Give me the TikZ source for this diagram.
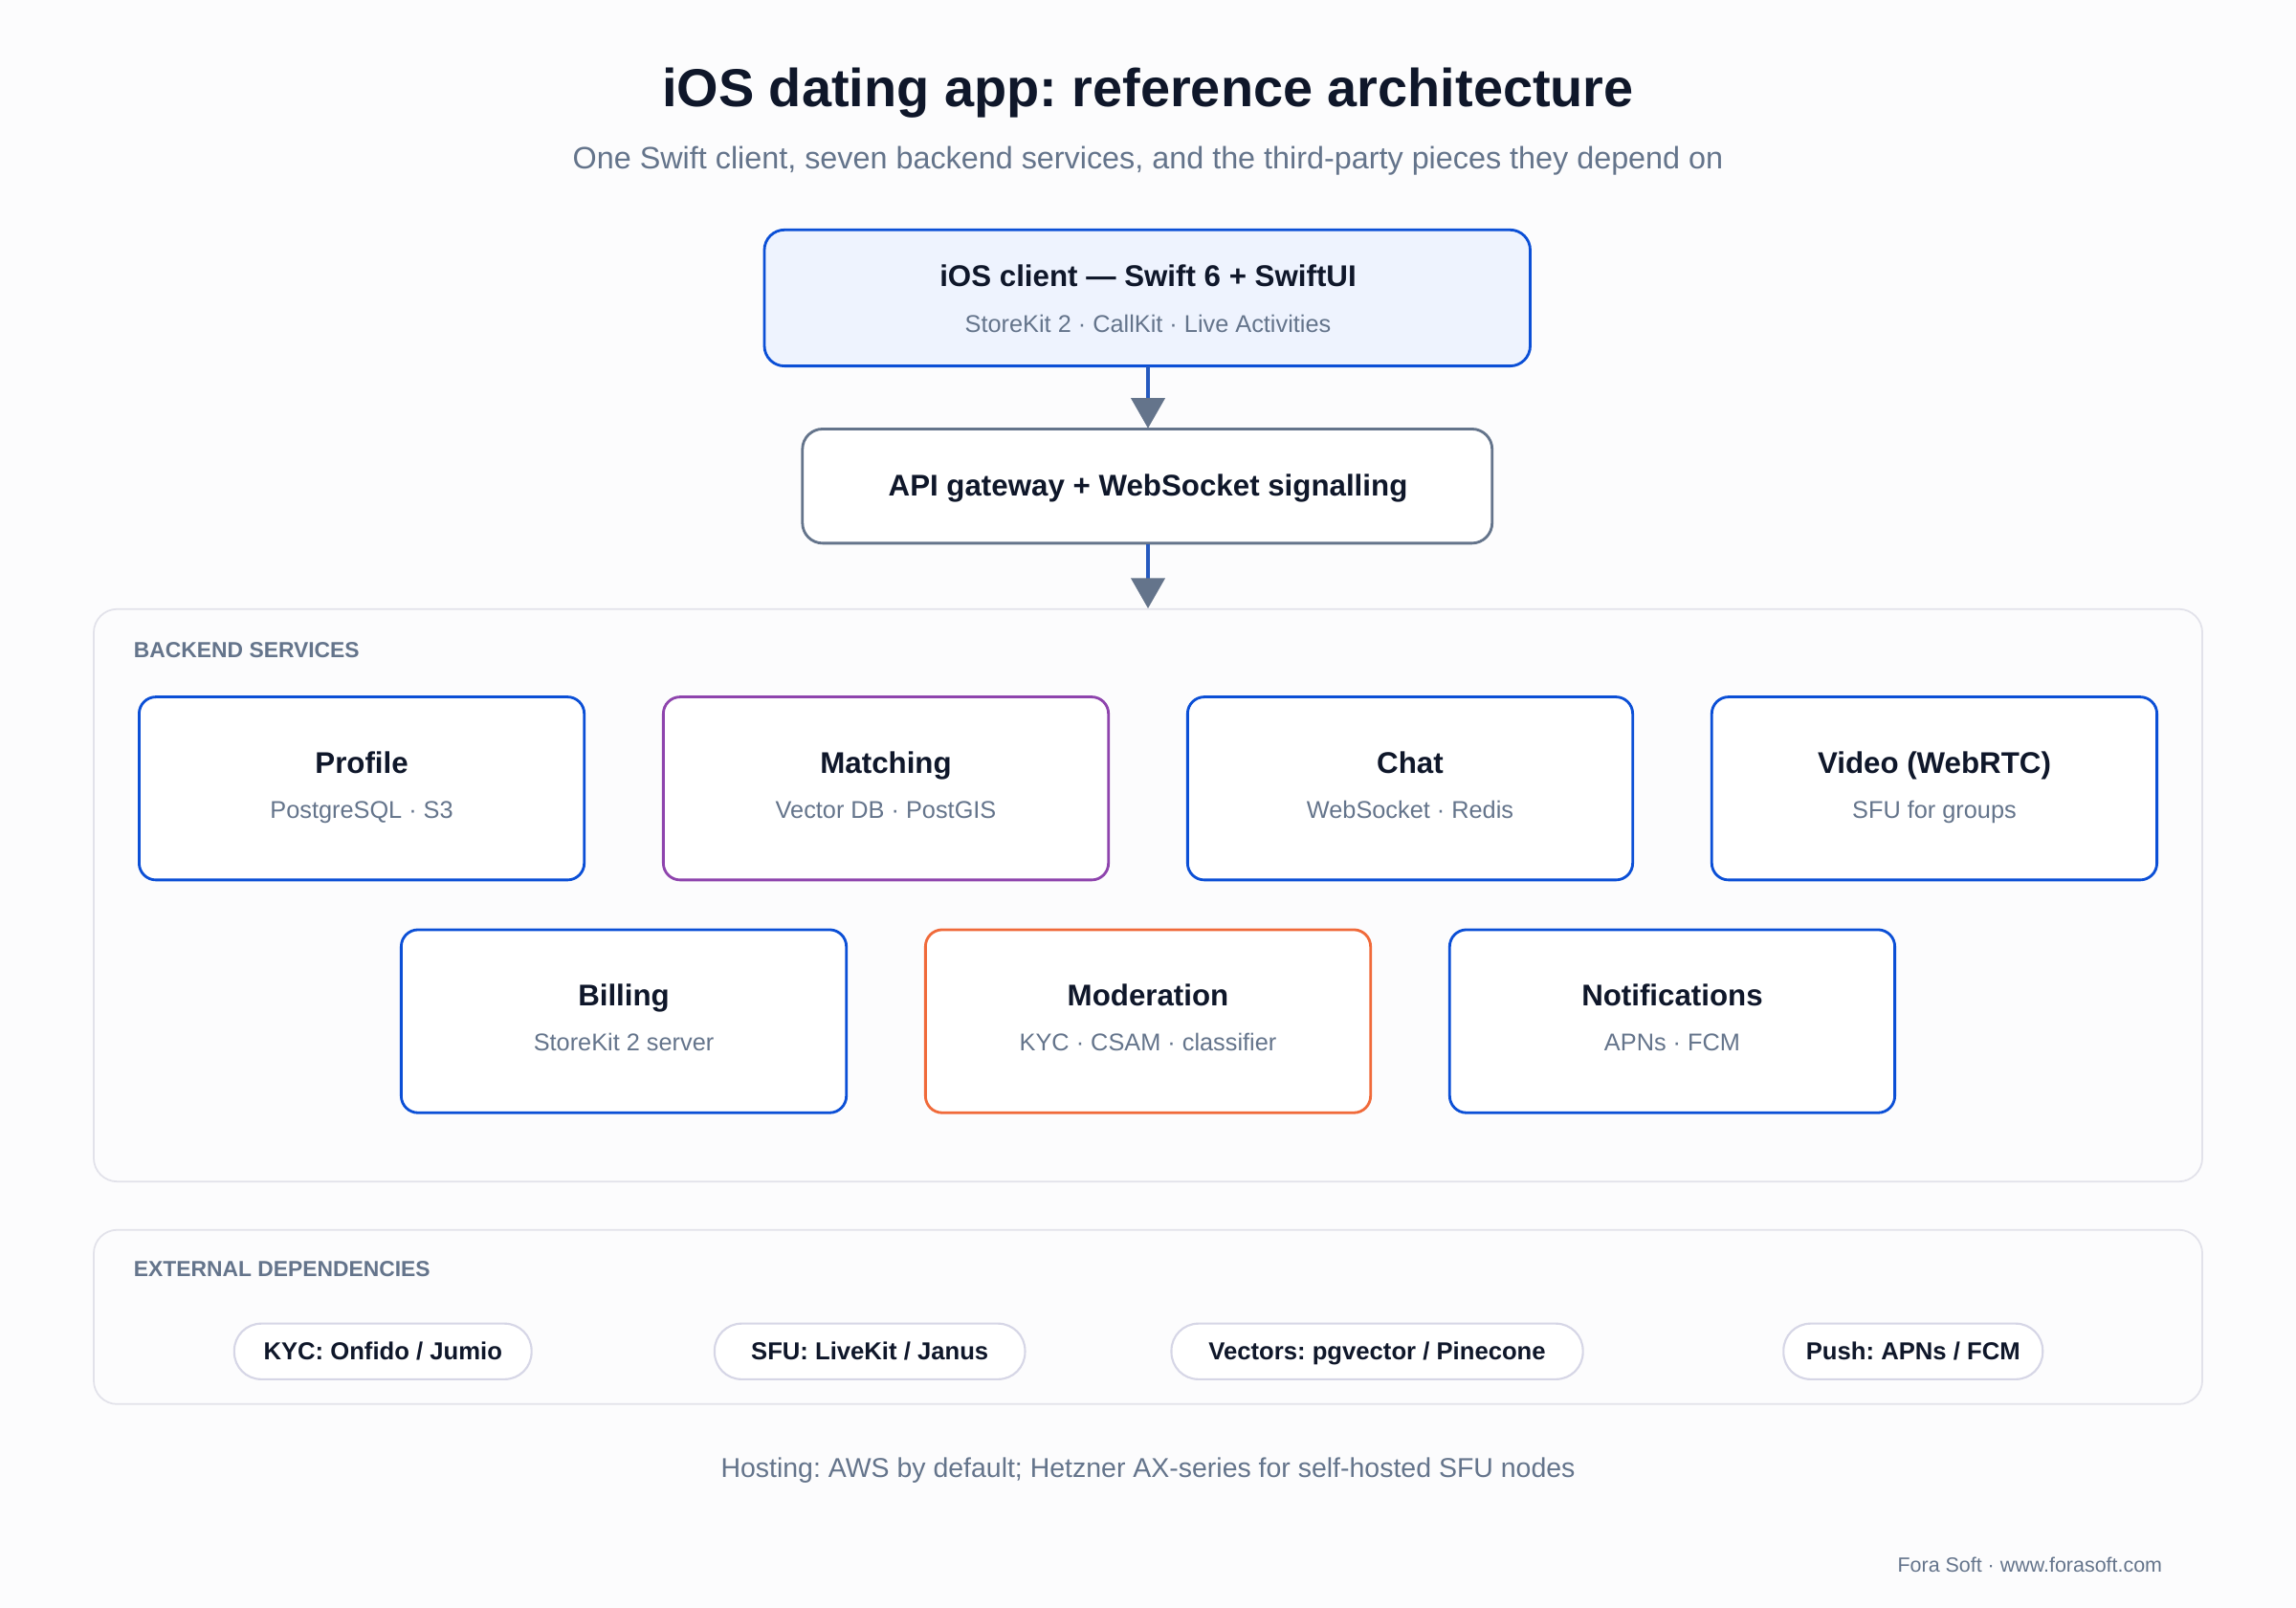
\documentclass[tikz,border=0pt]{standalone}
\usepackage{fontspec}
\setmainfont{Liberation Sans}
\usetikzlibrary{arrows.meta}
\definecolor{bg}{HTML}{FCFCFD}
\definecolor{ink}{HTML}{0F172A}
\definecolor{sub}{HTML}{64748B}
\definecolor{blu}{HTML}{0B4FD6}
\definecolor{pur}{HTML}{8E44AD}
\definecolor{ora}{HTML}{F06A3A}
\definecolor{pan}{HTML}{E2E2EA}
\definecolor{pill}{HTML}{D6D6E6}
\definecolor{clientfill}{HTML}{EEF3FE}
\begin{document}
\frenchspacing
\begin{tikzpicture}[x=0.015306cm,y=-0.015306cm,
  fs/.style={font=\fontsize{#1}{#1}\selectfont},
  bf/.style={font=\fontsize{#1}{#1}\selectfont\bfseries},
  svc/.style={draw=blu,line width=0.8pt,rounded corners=5pt,fill=white},
  ttl/.style={bf=8.9,text=ink,anchor=base},
  st/.style={fs=7.2,text=sub,anchor=base},
  panel/.style={draw=pan,line width=0.5pt,rounded corners=7pt,fill=bg},
  lab/.style={bf=6.5,text=sub,anchor=base west,inner sep=0pt},
  pil/.style={draw=pill,line width=0.6pt,rounded corners=8pt,fill=white},
  pt/.style={bf=7.3,text=ink,anchor=base},
  arr/.style={draw=blu!70!sub,line width=1pt,-{Triangle[width=10pt,length=9pt,color=sub]}}]
\fill[bg] (0,0) rectangle (1568,1098);
\node[bf=15.9,text=ink,anchor=base] (title) at (784,73) {iOS dating app: reference architecture};
\node[fs=9.2,text=sub,anchor=base] (subt) at (784,115) {One Swift client, seven backend services, and the third-party pieces they depend on};
% client
\draw[svc,fill=clientfill,rounded corners=6pt] (522,157) rectangle (1045,250);
\node (client) at (784,203.5) [minimum width=523*0.15306mm,minimum height=93*0.15306mm] {};
\node[ttl] (ct) at (784,196) {iOS client — Swift 6 + SwiftUI};
\node[st] (cs) at (784,227) {StoreKit 2 · CallKit · Live Activities};
% gateway
\draw[draw=sub,line width=0.8pt,rounded corners=6pt,fill=white] (548,293) rectangle (1019,371);
\node (gw) at (784,332) [minimum width=471*0.15306mm,minimum height=78*0.15306mm] {};
\node[ttl] (gt) at (784,339) {API gateway + WebSocket signalling};
% backend panel
\draw[panel] (64,416) rectangle (1504,807);
\node (back) at (784,611.5) [minimum width=1440*0.15306mm,minimum height=391*0.15306mm] {};
\node[lab] (bl) at (91,449) {BACKEND SERVICES};
\draw[arr] (client.south) -- (gw.north);
\draw[arr] (gw.south) -- (back.north);
% services
\foreach \n/\x/\y/\c/\t/\s in {
  prof/95/476/blu/Profile/{PostgreSQL · S3},
  match/453/476/pur/Matching/{Vector DB · PostGIS},
  chat/811/476/blu/Chat/{WebSocket · Redis},
  video/1169/476/blu/Video (WebRTC)/{SFU for groups},
  bill/274/635/blu/Billing/{StoreKit 2 server},
  mod/632/635/ora/Moderation/{KYC · CSAM · classifier},
  notif/990/635/blu/Notifications/{APNs · FCM}}{
  \draw[svc,draw=\c] (\x,\y) rectangle ++(304,125);
  \node[ttl] (\n t) at (\x+152,\y+52) {\t};
  \node[st] (\n s) at (\x+152,\y+83) {\s};
}
% external
\draw[panel] (64,840) rectangle (1504,959);
\node[lab] (el) at (91,872) {EXTERNAL DEPENDENCIES};
\foreach \n/\a/\b/\t in {kyc/160/363/{KYC: Onfido / Jumio},sfu/488/700/{SFU: LiveKit / Janus},vec/800/1081/{Vectors: pgvector / Pinecone},push/1218/1395/{Push: APNs / FCM}}{
  \draw[pil] (\a,904) rectangle (\b,942);
  \node[pt] (\n) at ({(\a+\b)/2},929) {\t};
}
\node[fs=8.1,text=sub,anchor=base] (host) at (784,1009) {Hosting: AWS by default; Hetzner AX-series for self-hosted SFU nodes};
\node[fs=6.1,text=sub,anchor=base east,inner sep=0pt] (foot) at (1477,1074) {Fora Soft · www.forasoft.com};
\end{tikzpicture}
\end{document}
